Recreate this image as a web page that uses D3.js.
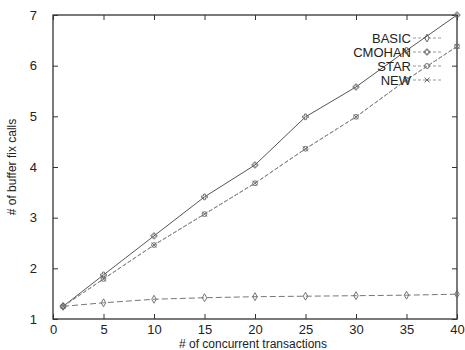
<!DOCTYPE html>
<html>
<head>
<meta charset="utf-8">
<script src="https://cdn.jsdelivr.net/npm/d3@7"></script>
<style>
  body { margin: 0; background: #fff; }
  text { font-family: "Liberation Sans", Arial, sans-serif; fill: #222; }
</style>
</head>
<body>
<div id="chart"></div>
<script>
var txns = [1, 5, 10, 15, 20, 25, 30, 35, 40];
var basic = [1.25, 1.32, 1.39, 1.42, 1.44, 1.45, 1.46, 1.47, 1.49];
var cmohan = [1.25, 1.87, 2.64, 3.41, 4.04, 4.99, 5.58, 6.3, 7.0];
var star = [1.25, 1.79, 2.46, 3.07, 3.68, 4.36, 4.99, 5.72, 6.38];
var newer = [1.25, 1.79, 2.46, 3.07, 3.68, 4.36, 4.99, 5.72, 6.38];
var xTicks = [0, 5, 10, 15, 20, 25, 30, 35, 40];
var yTicks = [1, 2, 3, 4, 5, 6, 7];

var width = 465, height = 350;

var svg = d3.select("#chart").append("svg")
    .attr("width", width)
    .attr("height", height);

var x = d3.scaleLinear().domain([0, 40]).range([53, 457]);
var y = d3.scaleLinear().domain([1, 7]).range([319, 15]);

// frame
svg.append("rect")
    .attr("x", x(0)).attr("y", y(7))
    .attr("width", x(40) - x(0)).attr("height", y(1) - y(7))
    .attr("fill", "none").attr("stroke", "#333").attr("stroke-width", 1.3);

function styleAxis(g) {
    g.select(".domain").remove();
    g.selectAll("line").attr("stroke", "#333");
    g.selectAll("text").attr("font-size", 13).attr("fill", "#222");
}

svg.append("g").attr("transform", "translate(0," + y(1) + ")")
    .call(d3.axisBottom(x).tickValues(xTicks).tickSize(-5).tickPadding(6))
    .call(styleAxis);
svg.append("g").attr("transform", "translate(0," + y(7) + ")")
    .call(d3.axisTop(x).tickValues(xTicks).tickSize(-5).tickFormat(""))
    .call(styleAxis);
svg.append("g").attr("transform", "translate(" + x(0) + ",0)")
    .call(d3.axisLeft(y).tickValues(yTicks).tickSize(-5).tickPadding(16).tickFormat(d3.format("d")))
    .call(styleAxis);
svg.append("g").attr("transform", "translate(" + x(40) + ",0)")
    .call(d3.axisRight(y).tickValues(yTicks).tickSize(-5).tickFormat(""))
    .call(styleAxis);

svg.append("text")
    .attr("transform", "translate(16," + ((y(1) + y(7)) / 2) + ") rotate(-90)")
    .attr("text-anchor", "middle")
    .attr("font-size", 12)
    .text("# of buffer fix calls");

svg.append("text")
    .attr("x", (x(0) + x(40)) / 2 - 2)
    .attr("y", 348)
    .attr("text-anchor", "middle")
    .attr("font-size", 12)
    .text("# of concurrent transactions");

var series = [
    { name: "BASIC", values: basic, symbol: d3.symbolDiamond, dash: "6,3", color: "#777" },
    { name: "CMOHAN", values: cmohan, symbol: d3.symbolCross, dash: null, color: "#555" },
    { name: "STAR", values: star, symbol: d3.symbolCircle, dash: "4,2", color: "#888" },
    { name: "NEW", values: newer, symbol: d3.symbolTimes, dash: "4,2", color: "#888" }
];

var line = d3.line()
    .x(function (d, i) { return x(txns[i]); })
    .y(function (d) { return y(d); });

series.forEach(function (s, k) {
    svg.append("path")
        .datum(s.values)
        .attr("d", line)
        .attr("fill", "none")
        .attr("stroke", s.color)
        .attr("stroke-width", 1)
        .attr("stroke-dasharray", s.dash);

    svg.selectAll(".pt" + k)
        .data(s.values)
        .enter().append("path")
        .attr("transform", function (d, i) { return "translate(" + x(txns[i]) + "," + y(d) + ")"; })
        .attr("d", d3.symbol().type(s.symbol).size(18))
        .attr("fill", "none")
        .attr("stroke", "#666")
        .attr("stroke-width", 0.9);

    // legend
    var ly = 38 + k * 14;
    svg.append("text")
        .attr("x", 411).attr("y", ly + 5)
        .attr("text-anchor", "end")
        .attr("font-size", 13)
        .text(s.name);
    svg.append("line")
        .attr("x1", 413).attr("x2", 441)
        .attr("y1", ly).attr("y2", ly)
        .attr("stroke", "#999")
        .attr("stroke-width", 1)
        .attr("stroke-dasharray", "3,2");
    svg.append("path")
        .attr("transform", "translate(427," + ly + ")")
        .attr("d", d3.symbol().type(s.symbol).size(18))
        .attr("fill", "none")
        .attr("stroke", "#666");
});
</script>
</body>
</html>
